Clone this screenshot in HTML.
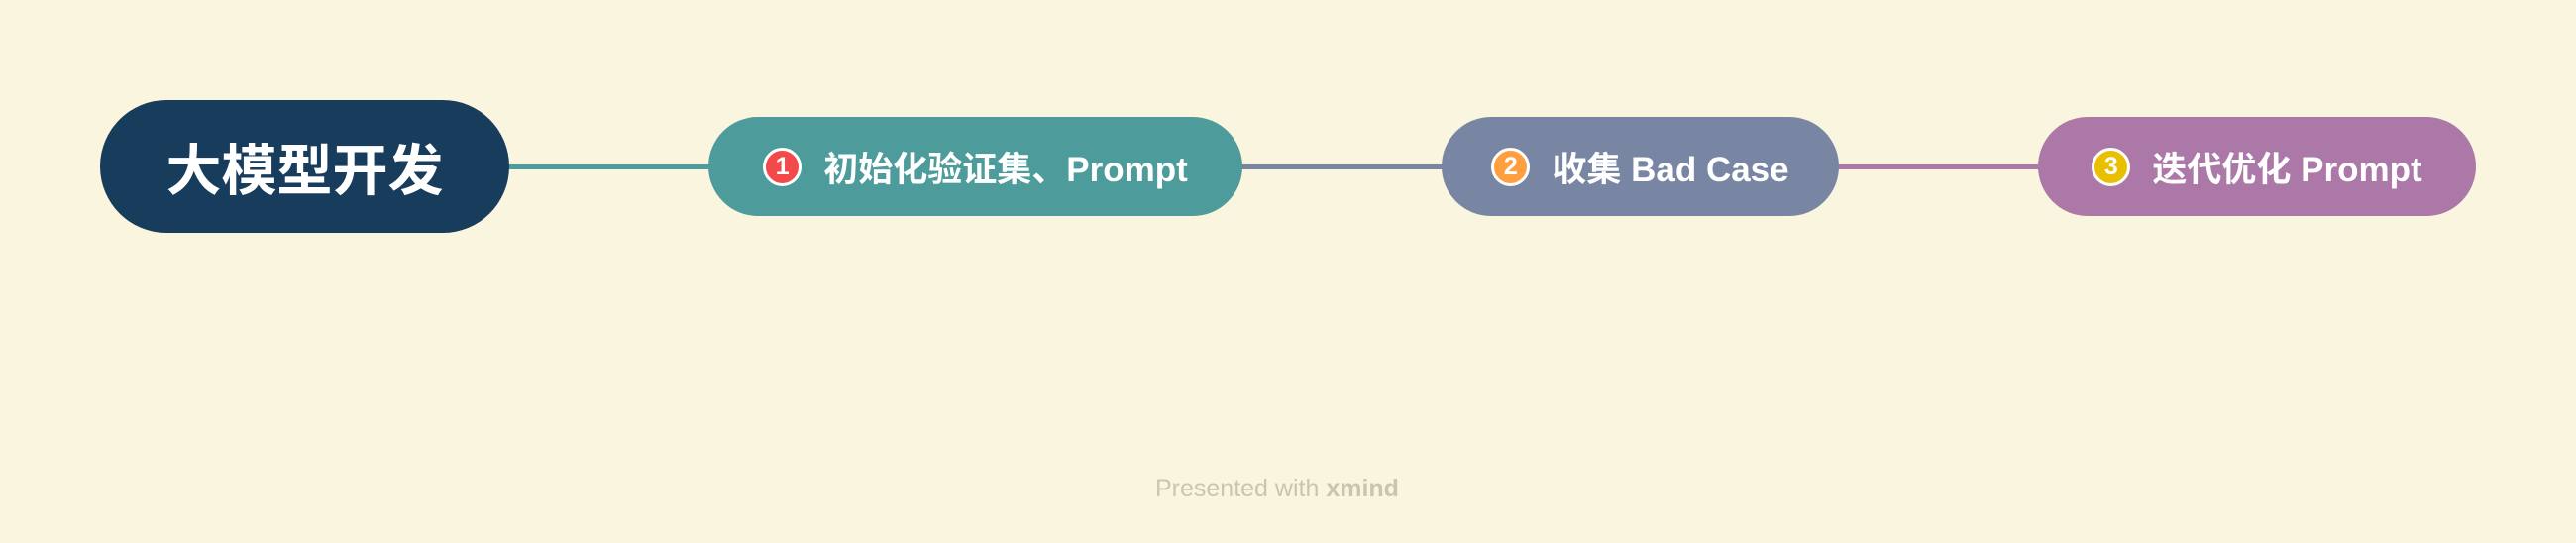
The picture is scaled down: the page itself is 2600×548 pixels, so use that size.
<!DOCTYPE html>
<html><head><meta charset="utf-8"><style>
body{margin:0;width:2600px;height:548px;background:#faf5df;position:relative;overflow:hidden;font-family:"Liberation Sans","Noto Sans CJK SC",sans-serif;}
.line{position:absolute;height:5px;top:166px;}
.n{position:absolute;display:flex;align-items:center;justify-content:center;color:#fff;font-weight:bold;box-sizing:border-box;}
.b{width:39px;height:39px;border-radius:50%;border:3px solid #fff;box-sizing:border-box;display:inline-flex;align-items:center;justify-content:center;font-size:25px;margin-right:22px;}
.t{font-size:35px;white-space:nowrap;}
</style></head><body>
<div class="line" style="left:510px;width:210px;background:#4d9c9b"></div>
<div class="line" style="left:1250px;width:210px;background:#7886a4"></div>
<div class="line" style="left:1852px;width:210px;background:#ab78a8"></div>
<div class="n" style="left:101px;top:101px;width:413px;height:134px;border-radius:67px;background:#173c5c;font-size:56px;">大模型开发</div>
<div class="n" style="left:715px;top:118px;width:539px;height:100px;border-radius:50px;background:#4d9c9b;"><span class="b" style="background:#f24a4a">1</span><span class="t">初始化验证集、Prompt</span></div>
<div class="n" style="left:1455px;top:118px;width:401px;height:100px;border-radius:50px;background:#7886a4;"><span class="b" style="background:#ff9f40">2</span><span class="t">收集 Bad Case</span></div>
<div class="n" style="left:2057px;top:118px;width:442px;height:100px;border-radius:50px;background:#ab78a8;"><span class="b" style="background:#e9c000">3</span><span class="t">迭代优化 Prompt</span></div>
<div style="position:absolute;left:1166px;top:479px;font-size:25px;color:#c9c6b0;white-space:nowrap;">Presented with <b>xmind</b></div>
</body></html>
